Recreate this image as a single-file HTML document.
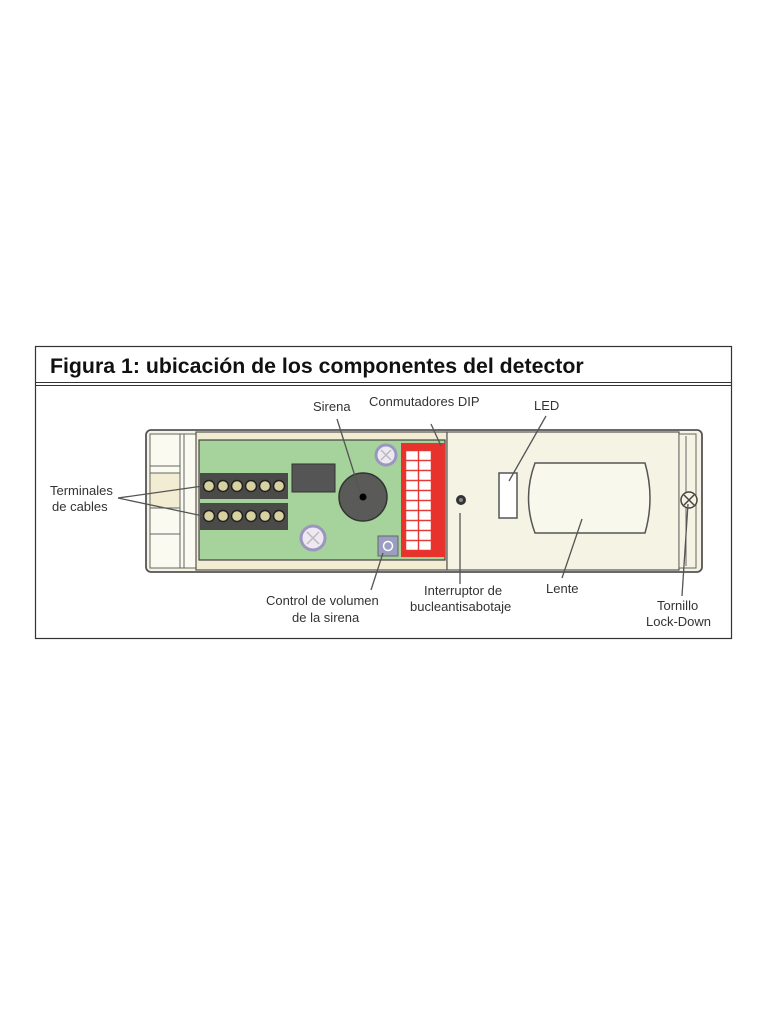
<!DOCTYPE html>
<html><head><meta charset="utf-8"><style>
html,body{margin:0;padding:0;background:#fff;}
svg{display:block;}
text{font-family:"Liberation Sans",Arial,sans-serif;fill:#333;}
</style></head><body>
<svg width="768" height="1024" viewBox="0 0 768 1024">
<rect x="35.5" y="346.5" width="696" height="292" fill="#fff" stroke="#333" stroke-width="1.2"/>
<line x1="35" y1="382.5" x2="732" y2="382.5" stroke="#333" stroke-width="1"/>
<line x1="35" y1="385.5" x2="732" y2="385.5" stroke="#333" stroke-width="1"/>
<text x="50" y="373" font-size="21.3" font-weight="bold" style="fill:#111">Figura 1: ubicación de los componentes del detector</text>

<rect x="146" y="430" width="556" height="142" rx="5" fill="#f5f3e3" stroke="#555" stroke-width="1.8"/>
<rect x="150" y="434" width="46" height="134" fill="#fbfaf0" stroke="#666" stroke-width="1"/>
<line x1="180" y1="434" x2="180" y2="568" stroke="#666"/>
<line x1="184" y1="434" x2="184" y2="568" stroke="#666"/>
<rect x="150" y="473" width="30" height="35" fill="#f1ecd2" stroke="#666"/>
<line x1="150" y1="466" x2="180" y2="466" stroke="#666"/>
<line x1="150" y1="534" x2="180" y2="534" stroke="#666"/>
<rect x="196" y="432" width="251" height="138" fill="#f1ecd2" stroke="#555" stroke-width="1.2"/>
<rect x="199" y="440" width="246" height="120" fill="#a6d29b" stroke="#444" stroke-width="1.2"/>
<rect x="200" y="473" width="88" height="26" fill="#4a4a48"/>
<rect x="200" y="503" width="88" height="27" fill="#4a4a48"/>
<g fill="#d8d2a0" stroke="#222" stroke-width="1.5">
<circle cx="209" cy="486" r="5.5"/><circle cx="223" cy="486" r="5.5"/><circle cx="237" cy="486" r="5.5"/><circle cx="251" cy="486" r="5.5"/><circle cx="265" cy="486" r="5.5"/><circle cx="279" cy="486" r="5.5"/>
<circle cx="209" cy="516" r="5.5"/><circle cx="223" cy="516" r="5.5"/><circle cx="237" cy="516" r="5.5"/><circle cx="251" cy="516" r="5.5"/><circle cx="265" cy="516" r="5.5"/><circle cx="279" cy="516" r="5.5"/>
</g>
<rect x="292" y="464" width="43" height="28" fill="#555" stroke="#333"/>
<circle cx="363" cy="497" r="24" fill="#5a5a58" stroke="#333" stroke-width="1.5"/>
<circle cx="363" cy="497" r="3.5" fill="#000"/>
<circle cx="386" cy="455" r="10" fill="#ede8f2" stroke="#9a96c0" stroke-width="3"/>
<path d="M381 450l10 10M391 450l-10 10" stroke="#bbb" stroke-width="1.5"/>
<circle cx="313" cy="538" r="12" fill="#ede8f2" stroke="#9a96c0" stroke-width="3"/>
<path d="M307 532l12 12M319 532l-12 12" stroke="#bbb" stroke-width="1.5"/>
<rect x="378" y="536" width="20" height="20" fill="#9a9ec2" stroke="#666"/>
<circle cx="388" cy="546" r="4.5" fill="none" stroke="#fff" stroke-width="1.5"/>
<rect x="401" y="443" width="44" height="114" fill="#e8322c"/>
<g fill="#fff" stroke="#d44" stroke-width="0.5">
<rect x="406" y="451" width="12" height="9"/><rect x="419" y="451" width="12" height="9"/>
<rect x="406" y="461" width="12" height="9"/><rect x="419" y="461" width="12" height="9"/>
<rect x="406" y="471" width="12" height="9"/><rect x="419" y="471" width="12" height="9"/>
<rect x="406" y="481" width="12" height="9"/><rect x="419" y="481" width="12" height="9"/>
<rect x="406" y="491" width="12" height="9"/><rect x="419" y="491" width="12" height="9"/>
<rect x="406" y="501" width="12" height="9"/><rect x="419" y="501" width="12" height="9"/>
<rect x="406" y="511" width="12" height="9"/><rect x="419" y="511" width="12" height="9"/>
<rect x="406" y="521" width="12" height="9"/><rect x="419" y="521" width="12" height="9"/>
<rect x="406" y="531" width="12" height="9"/><rect x="419" y="531" width="12" height="9"/>
<rect x="406" y="541" width="12" height="9"/><rect x="419" y="541" width="12" height="9"/>
</g>
<rect x="447" y="432" width="232" height="138" fill="#f5f3e3" stroke="#555" stroke-width="1.2"/>
<circle cx="461" cy="500" r="5" fill="#333"/><circle cx="461" cy="500" r="2" fill="#888"/>
<rect x="499" y="473" width="18" height="45" fill="#fff" stroke="#555" stroke-width="1.5"/>
<path d="M535 463 H645 Q655 498 645 533 H535 Q522 498 535 463Z" fill="#f9f8ec" stroke="#555" stroke-width="1.5"/>
<rect x="679" y="434" width="17" height="134" fill="#f5f3e3" stroke="#666"/>
<line x1="686" y1="436" x2="686" y2="566" stroke="#666"/>
<circle cx="689" cy="500" r="8" fill="#f5f3e3" stroke="#444" stroke-width="1.5"/>
<path d="M684 495l10 10M694 495l-10 10" stroke="#444" stroke-width="1.5"/>

<g stroke="#555" stroke-width="1.3" fill="none">
<line x1="118" y1="498" x2="203" y2="486"/>
<line x1="118" y1="498" x2="203" y2="516"/>
<line x1="337" y1="419" x2="360" y2="492"/>
<line x1="431" y1="424" x2="441" y2="446"/>
<line x1="546" y1="416" x2="509" y2="481"/>
<line x1="371" y1="590" x2="383" y2="553"/>
<line x1="460" y1="584" x2="460" y2="513"/>
<line x1="562" y1="578" x2="582" y2="519"/>
<line x1="682" y1="596" x2="688" y2="504"/>
</g>
<g font-size="13">
<text x="50" y="495">Terminales</text>
<text x="52" y="511">de cables</text>
<text x="313" y="411">Sirena</text>
<text x="369" y="406">Conmutadores DIP</text>
<text x="534" y="410">LED</text>
<text x="266" y="605">Control de volumen</text>
<text x="292" y="622">de la sirena</text>
<text x="424" y="595">Interruptor de</text>
<text x="410" y="611">bucleantisabotaje</text>
<text x="546" y="593">Lente</text>
<text x="657" y="610">Tornillo</text>
<text x="646" y="626">Lock-Down</text>
</g>
</svg>
</body></html>
